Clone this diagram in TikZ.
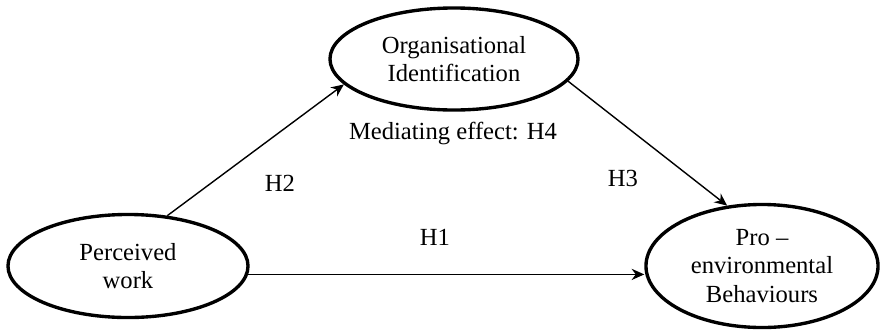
\documentclass[tikz,border=0pt]{standalone}
\usepackage{fontspec}
\setmainfont{Liberation Serif}
\usetikzlibrary{shapes.geometric, arrows.meta}

\tikzset{
    construct/.style={ellipse, draw, line width=2.4pt, align=center, inner sep=0pt},
    path link/.style={line width=1pt, -{Stealth[length=9pt, width=8pt]}},
    hyp/.style={inner sep=0pt}
}

\begin{document}
\begin{tikzpicture}[x=0.025cm, y=-0.025cm, font=\fontsize{17.5}{20.5}\selectfont]
    \useasboundingbox (0,0) rectangle (880,330);
    \node[construct, minimum width=6cm, minimum height=2.575cm] (pw) at (128,266) {Perceived\\work};
    \node[construct, minimum width=6.2cm, minimum height=2.55cm] (oi) at (454,59) {Organisational\\Identification};
    \node[construct, minimum width=5.8cm, minimum height=3.075cm] (peb) at (762,266) {Pro --\\environmental\\Behaviours};
    \draw[path link] (pw.52) -- (oi.193);
    \draw[path link] (oi.-11) -- (peb.120);
    \draw[path link] (pw.-4) -- (pw.-4 -| peb.west);
    \node[hyp] (h1) at (435,237) {H1};
    \node[hyp] (h2) at (280,183) {H2};
    \node[hyp] (h3) at (623,178) {H3};
    \node[hyp] (h4) at (453,133) {Mediating effect: H4};
\end{tikzpicture}
\end{document}
